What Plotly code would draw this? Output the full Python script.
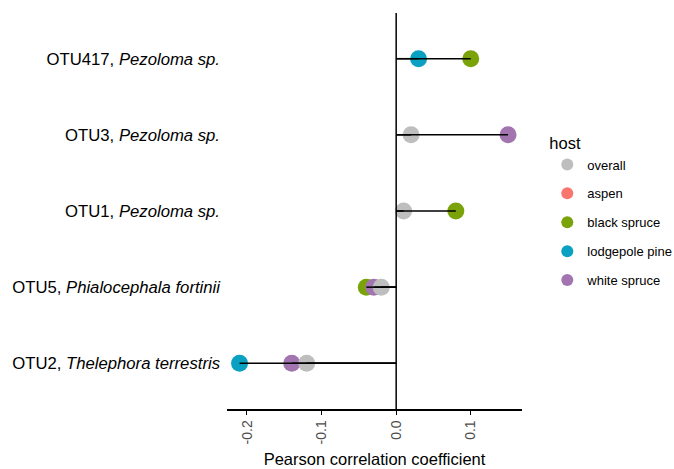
import plotly.graph_objects as go

otus = [
    "OTU417, <i>Pezoloma sp.</i>",
    "OTU3, <i>Pezoloma sp.</i>",
    "OTU1, <i>Pezoloma sp.</i>",
    "OTU5, <i>Phialocephala fortinii</i>",
    "OTU2, <i>Thelephora terrestris</i>",
]
hosts = ["overall", "aspen", "black spruce", "lodgepole pine", "white spruce"]
overall = [None, 0.02, 0.01, -0.02, -0.12]
aspen = [None, None, None, None, None]
black_spruce = [0.10, None, 0.08, -0.04, None]
lodgepole_pine = [0.03, None, None, None, -0.21]
white_spruce = [None, 0.15, None, -0.03, -0.14]
x_ticks = [-0.2, -0.1, 0.0, 0.1]
x_ticklabels = ["-0.2", "-0.1", "0.0", "0.1"]

values = {
    "overall": overall,
    "aspen": aspen,
    "black spruce": black_spruce,
    "lodgepole pine": lodgepole_pine,
    "white spruce": white_spruce,
}
colors = {
    "overall": "#BEBEBE",
    "aspen": "#F8766D",
    "black spruce": "#7AA30A",
    "lodgepole pine": "#0AA0C2",
    "white spruce": "#A375B0",
}

fig = go.Figure()

draw_order = ["aspen", "black spruce", "lodgepole pine", "white spruce", "overall"]
for h in draw_order:
    vals = values[h]
    xs = list(vals)
    ys = list(otus)
    if all(v is None for v in vals):
        xs, ys = [None], [otus[0]]
    fig.add_trace(go.Scatter(
        x=xs, y=ys, mode="markers", name=h,
        marker=dict(color=colors[h], size=17, line=dict(width=0)),
        legendrank=hosts.index(h) + 1,
        legendgroup=h,
        hoverinfo="skip",
    ))

seg_x, seg_y = [], []
for h in hosts:
    for o, v in zip(otus, values[h]):
        if v is not None:
            seg_x += [0, v, None]
            seg_y += [o, o, None]
fig.add_trace(go.Scatter(
    x=seg_x, y=seg_y, mode="lines", line=dict(color="black", width=1.5),
    showlegend=False, hoverinfo="skip",
))

fig.add_shape(type="line", xref="x", yref="paper", x0=0, x1=0, y0=0, y1=1,
              line=dict(color="black", width=1.5))

fig.update_layout(
    width=674, height=469,
    margin=dict(l=227, r=152, t=13, b=60, autoexpand=False),
    paper_bgcolor="white", plot_bgcolor="white",
    font=dict(family="Liberation Sans, Arial, sans-serif", color="black", size=14),
    xaxis=dict(
        range=[-0.2268, 0.1687],
        tickvals=x_ticks, ticktext=x_ticklabels, tickangle=-90,
        ticks="outside", ticklen=4, tickwidth=1.2, tickcolor="black",
        showline=True, linecolor="black", linewidth=1.5,
        showgrid=False, zeroline=False, automargin=False,
        tickfont=dict(size=14, color="#4D4D4D"),
        title=dict(text="Pearson correlation coefficient", font=dict(size=16.5), standoff=10),
    ),
    yaxis=dict(
        type="category", categoryorder="array", categoryarray=otus[::-1],
        range=[-0.6, 4.6],
        showline=False, showgrid=False, zeroline=False, ticks="", automargin=False,
        ticklabelstandoff=6,
        tickfont=dict(size=16.7, color="black"),
    ),
    legend=dict(
        title=dict(text="host", font=dict(size=16.5)),
        xref="container", yref="container",
        x=0.812, xanchor="left", y=0.727, yanchor="top",
        font=dict(size=13),
        tracegroupgap=9,
        itemsizing="constant",
    ),
)

fig.write_html("out.html", config={"displayModeBar": False},
               post_script="document.body.style.margin='0px';")
